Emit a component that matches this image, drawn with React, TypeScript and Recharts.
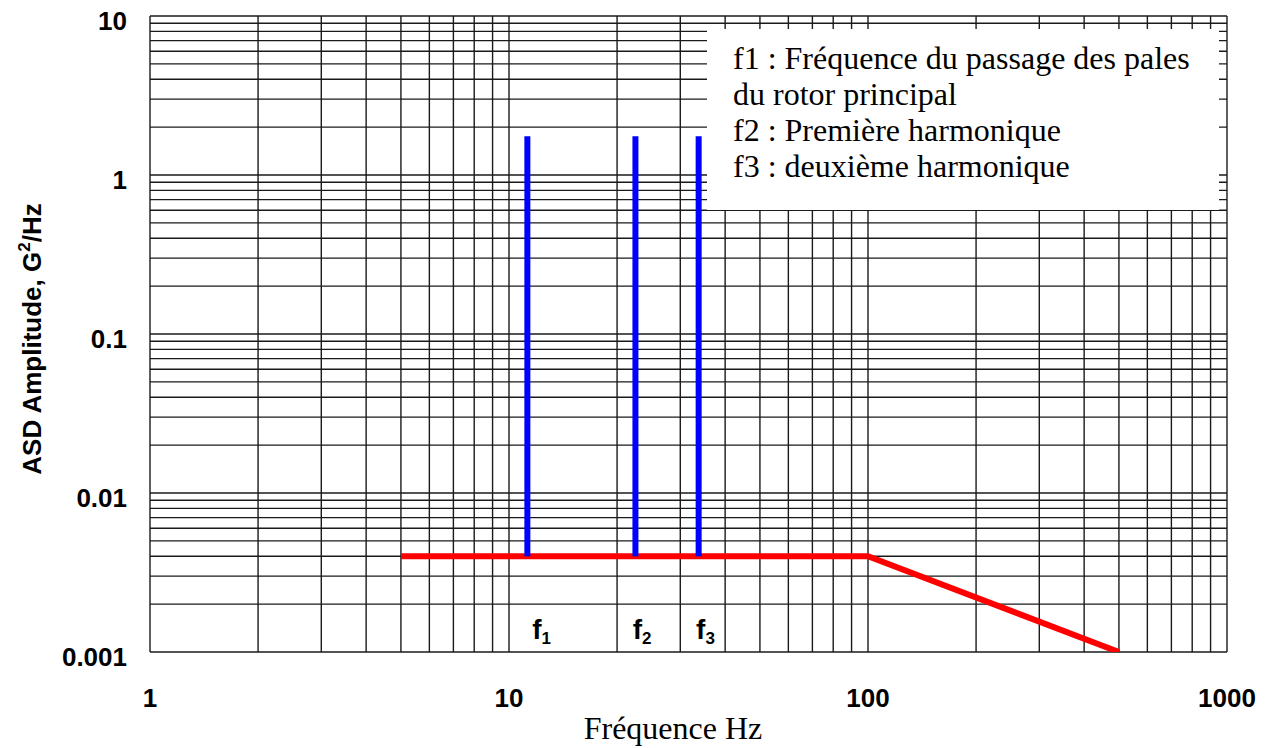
import React from "react";
import { ComposedChart, Line, Scatter, XAxis, YAxis, CartesianGrid } from "recharts";

// ---- data ----
const profileFreq = [5, 100, 500];
const profileASD = [0.004, 0.004, 0.001];

const spikeFreqs = [11.25, 22.5, 33.75];
const spikeBase = 0.004;
const spikeTop = 1.75;

const fLabelNames = ["1", "2", "3"];
const fLabelFreqs = [11.6, 22.1, 33.2];
const fLabelLevel = 0.00121;

const xTicks = [
  1, 2, 3, 4, 5, 6, 7, 8, 9,
  10, 20, 30, 40, 50, 60, 70, 80, 90,
  100, 200, 300, 400, 500, 600, 700, 800, 900,
  1000,
];
const yTicks = [
  0.001, 0.002, 0.003, 0.004, 0.005, 0.006, 0.007, 0.008, 0.009,
  0.01, 0.02, 0.03, 0.04, 0.05, 0.06, 0.07, 0.08, 0.09,
  0.1, 0.2, 0.3, 0.4, 0.5, 0.6, 0.7, 0.8, 0.9,
  1, 2, 3, 4, 5, 6, 7, 8, 9,
  10,
];
const xDecades = [1, 10, 100, 1000];
const xDecadeLabels = ["1", "10", "100", "1000"];
const yDecades = [0.001, 0.01, 0.1, 1, 10];
const yDecadeLabels = ["0.001", "0.01", "0.1", "1", "10"];

const legendLines = [
  "f1 : Fréquence du passage des pales",
  "du rotor principal",
  "f2 : Première harmonique",
  "f3 : deuxième harmonique",
];

const xLabel = "Fréquence Hz";

// ---- derived series ----
const profileData = profileFreq.map((f, i) => ({ f, v: profileASD[i] }));
const spikeData = spikeFreqs.map((f) => [
  { f, v: spikeBase },
  { f, v: spikeTop },
]);
const fLabelData = fLabelFreqs.map((f, i) => ({ f, v: fLabelLevel, name: fLabelNames[i] }));

const BOLD = "'Liberation Sans', Arial, sans-serif";
const SERIF = "'Liberation Serif', 'Times New Roman', serif";

const findLabel = (value: number, decades: number[], labels: string[]) => {
  for (let i = 0; i < decades.length; i++) {
    if (Math.abs(value - decades[i]) / decades[i] < 1e-6) return labels[i];
  }
  return null;
};

const XTick = (props: any) => {
  const { x, y, payload } = props;
  const lbl = findLabel(payload.value, xDecades, xDecadeLabels);
  if (!lbl) return <g />;
  return (
    <text x={x} y={y + 55} textAnchor="middle" fontFamily={BOLD} fontWeight="bold" fontSize={26} fill="#000">
      {lbl}
    </text>
  );
};

const YTick = (props: any) => {
  const { x, y, payload } = props;
  const lbl = findLabel(payload.value, yDecades, yDecadeLabels);
  if (!lbl) return <g />;
  return (
    <text x={x - 23} y={y + 14} textAnchor="end" fontFamily={BOLD} fontWeight="bold" fontSize={26} fill="#000">
      {lbl}
    </text>
  );
};

const FLabel = (props: any) => {
  const { cx, cy, payload } = props;
  return (
    <text x={cx} y={cy} textAnchor="start" fontFamily={BOLD} fontWeight="bold" fontSize={28} fill="#000">
      f
      <tspan dy={5} fontSize={17}>{payload.name}</tspan>
    </text>
  );
};

export default function App() {
  return (
    <div style={{ position: "absolute", left: 0, top: 0, width: 1270, height: 748, background: "#fff" }}>
      <ComposedChart
        width={1270}
        height={748}
        margin={{ top: 16, right: 43, left: 0, bottom: 0 }}
      >
        <CartesianGrid stroke="#1a1a1a" strokeWidth={1.4} />
        <XAxis
          dataKey="f"
          type="number"
          scale="log"
          domain={[1, 1000]}
          ticks={xTicks}
          interval={0}
          allowDataOverflow
          axisLine={false}
          tickLine={false}
          tickSize={0}
          tickMargin={0}
          height={96}
          tick={<XTick />}
        />
        <YAxis
          dataKey="v"
          type="number"
          scale="log"
          domain={[0.001, 10]}
          ticks={yTicks}
          interval={0}
          allowDataOverflow
          axisLine={false}
          tickLine={false}
          tickSize={0}
          tickMargin={0}
          width={150}
          tick={<YTick />}
        />
        <Line
          data={profileData}
          dataKey="v"
          stroke="#ff0000"
          strokeWidth={6}
          dot={false}
          isAnimationActive={false}
          type="linear"
        />
        {spikeData.map((d, i) => (
          <Line
            key={i}
            data={d}
            dataKey="v"
            stroke="#0000ff"
            strokeWidth={6}
            dot={false}
            isAnimationActive={false}
            type="linear"
          />
        ))}
        <Scatter data={fLabelData} dataKey="v" shape={<FLabel />} isAnimationActive={false} />
      </ComposedChart>

      <svg width={1270} height={748} style={{ position: "absolute", left: 0, top: 0, pointerEvents: "none" }}>
        <text
          transform="translate(41, 339) rotate(-90)"
          textAnchor="middle"
          fontFamily={BOLD}
          fontWeight="bold"
          fontSize={26}
          fill="#000"
        >
          ASD Amplitude, G
          <tspan dy={-11} fontSize={17}>2</tspan>
          <tspan dy={11}>/Hz</tspan>
        </text>
        <text x={673} y={739} textAnchor="middle" fontFamily={SERIF} fontSize={32} fill="#000">
          {xLabel}
        </text>
      </svg>

      <div
        style={{
          position: "absolute",
          left: 707,
          top: 29,
          width: 512,
          height: 181,
          background: "#fff",
          fontFamily: SERIF,
          fontSize: 32,
          lineHeight: "36px",
          color: "#000",
          boxSizing: "border-box",
          paddingLeft: 26,
          paddingTop: 11,
          whiteSpace: "nowrap",
        }}
      >
        {legendLines.map((l, i) => (
          <div key={i}>{l}</div>
        ))}
      </div>
    </div>
  );
}
